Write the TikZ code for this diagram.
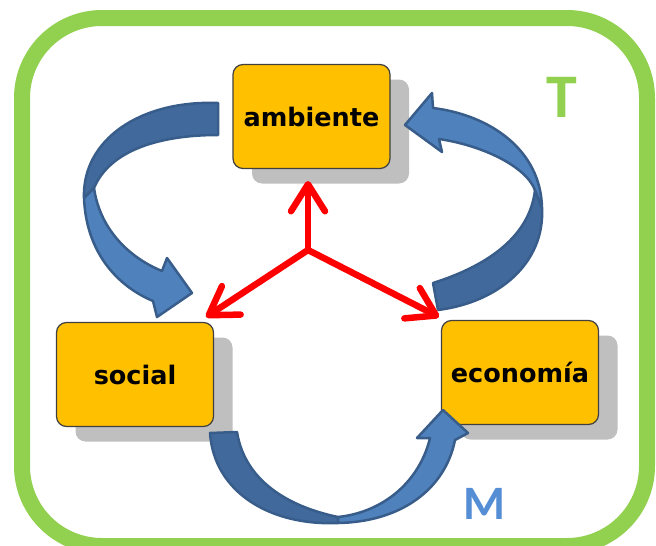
\documentclass[tikz,border=0pt]{standalone}
\usepackage{fontspec}
\setmainfont{DejaVu Sans}
\newfontfamily\calib{Carlito}
\usetikzlibrary{arrows.meta,shadows}
\definecolor{boxfill}{HTML}{FFC000}
\definecolor{shadowgray}{HTML}{BFBFBF}
\definecolor{framegreen}{HTML}{92D050}
\definecolor{ribbonlight}{HTML}{4F81BD}
\definecolor{ribbondark}{HTML}{41699C}
\definecolor{ribbonline}{HTML}{385D8A}
\definecolor{mblue}{HTML}{558ED5}
\begin{document}
\begin{tikzpicture}[x=1pt,y=-1pt,
  topic/.style={draw=black!75, line width=1.2, fill=boxfill, rounded corners=10,
    minimum width=157, minimum height=104, inner sep=0,
    font=\fontsize{25.5}{30}\selectfont\bfseries, text=black,
    drop shadow={shadow xshift=19pt, shadow yshift=-15pt, fill=shadowgray, opacity=1, draw=none}},
  redarrow/.style={draw=red, line width=6.5, line cap=round, line join=round,
    -{Straight Barb[round, length=27, width=34]}},
  ribbon/.style={draw=ribbonline, line width=2.5, line join=round},
  darkpart/.style={ribbon, fill=ribbondark},
  lightpart/.style={ribbon, fill=ribbonlight}]
\useasboundingbox (0,0) rectangle (656,546);
% frame
\draw[framegreen, line width=16, rounded corners=80] (22,18) rectangle (647,546);
% boxes
\node[topic] (amb) at (311.5,116.5) {ambiente};
\node[topic] (soc) at (135,374.5) {social};
\node[topic] (eco) at (520,372.5) {economía};
% red arrows
\coordinate (hub) at (308,250);
\coordinate (tipA) at (308,181);
\coordinate (tipS) at (206,317);
\coordinate (tipE) at (439,317);
\draw[redarrow] (hub) -- (tipA);
\draw[redarrow] (hub) -- (tipS);
\draw[redarrow] (hub) -- (tipE);
% left ribbon arrow (ambiente -> social)
\draw[darkpart] (218,103) .. controls (140,100) and (82,140) .. (84,198)
  -- (94,188) .. controls (110,150) and (160,135) .. (218,135) -- cycle;
\draw[lightpart] (84,198) .. controls (86,250) and (115,285) .. (153,301)
  -- (157,317) -- (192,293) -- (167,258) -- (162,271)
  .. controls (130,258) and (100,230) .. (94,188) -- cycle;
% right ribbon arrow (economia -> ambiente)
\draw[darkpart] (433,283) .. controls (490,265) and (530,235) .. (535,190)
  -- (542,208) .. controls (545,262) and (500,302) .. (438,310) -- cycle;
\draw[lightpart] (542,208) .. controls (541,150) and (490,115) .. (433,108)
  -- (432,93) -- (405,125) -- (442,152) -- (439,139)
  .. controls (480,145) and (525,165) .. (535,190) -- cycle;
% bottom ribbon arrow (social -> economia)
\draw[darkpart] (210,433) .. controls (214,492) and (270,526) .. (338,523)
  -- (338,517) .. controls (290,507) and (245,482) .. (237,432) -- cycle;
\draw[lightpart] (338,523) .. controls (400,522) and (445,490) .. (455,440)
  -- (468,433) -- (443,410) -- (417,438) -- (430,438)
  .. controls (420,480) and (385,512) .. (338,517) -- cycle;
% letters
\node[font=\calib\bfseries\fontsize{62}{62}\selectfont, text=framegreen, inner sep=0] (T) at (562,97) {T};
\node[font=\calib\bfseries\fontsize{48}{48}\selectfont, text=mblue, inner sep=0] (M) at (484,504) {M};
\end{tikzpicture}
\end{document}
